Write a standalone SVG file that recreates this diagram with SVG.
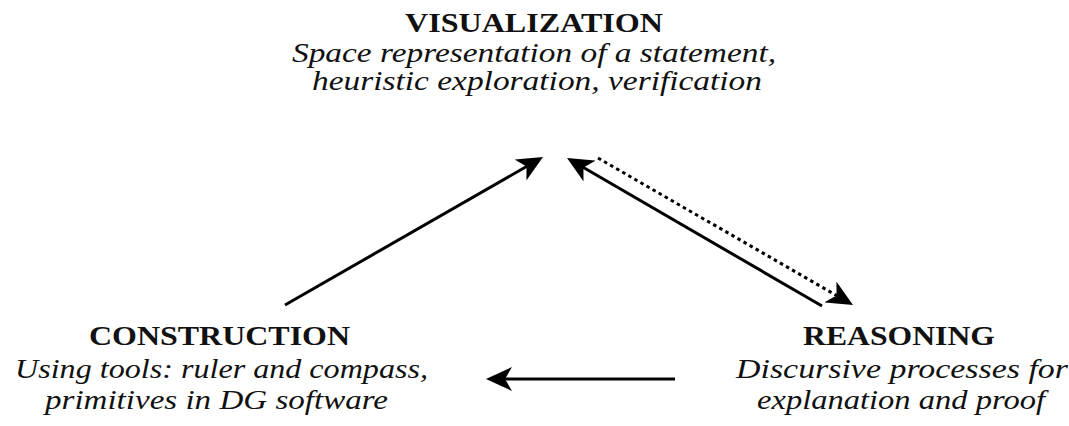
<svg xmlns="http://www.w3.org/2000/svg" width="1069" height="426" viewBox="0 0 1069 426">
<style>
.head{font-family:'Liberation Serif','Times New Roman',serif;font-size:28px;font-weight:bold;fill:#111}
.desc{font-family:'Liberation Serif','Times New Roman',serif;font-size:28px;font-style:italic;fill:#111}
.conn{stroke:#000;stroke-width:3;fill:none}
.dot{stroke-dasharray:3.5 3.5}
</style>
<defs>
<marker id="ah" viewBox="0 0 26 24" refX="8" refY="12" markerWidth="26" markerHeight="24" markerUnits="userSpaceOnUse" orient="auto">
<path d="M0,0 L26,12 L0,24 L7,12 Z" fill="#000"/>
</marker>
</defs>
<rect width="1069" height="426" fill="#fff"/>
<g id="connectors">
<line class="conn" x1="285" y1="305" x2="527.4" y2="166" marker-end="url(#ah)"/>
<line class="conn" x1="822" y1="306" x2="582.6" y2="167" marker-end="url(#ah)"/>
<line class="conn dot" x1="598" y1="158" x2="837.4" y2="296" marker-end="url(#ah)"/>
<line class="conn" x1="675" y1="379" x2="504" y2="379" marker-end="url(#ah)"/>
</g>
<g id="visualization">
<text class="head" x="405" y="32" textLength="258" lengthAdjust="spacingAndGlyphs">VISUALIZATION</text>
<text class="desc" x="292" y="62" textLength="484" lengthAdjust="spacingAndGlyphs">Space representation of a statement,</text>
<text class="desc" x="312" y="90" textLength="450" lengthAdjust="spacingAndGlyphs">heuristic exploration, verification</text>
</g>
<g id="construction">
<text class="head" x="89" y="345" textLength="261" lengthAdjust="spacingAndGlyphs">CONSTRUCTION</text>
<text class="desc" x="15" y="378" textLength="413" lengthAdjust="spacingAndGlyphs">Using tools: ruler and compass,</text>
<text class="desc" x="45" y="409" textLength="343" lengthAdjust="spacingAndGlyphs">primitives in DG software</text>
</g>
<g id="reasoning">
<text class="head" x="803" y="345" textLength="192" lengthAdjust="spacingAndGlyphs">REASONING</text>
<text class="desc" x="736" y="378" textLength="332" lengthAdjust="spacingAndGlyphs">Discursive processes for</text>
<text class="desc" x="757" y="409" textLength="288" lengthAdjust="spacingAndGlyphs">explanation and proof</text>
</g>
</svg>
